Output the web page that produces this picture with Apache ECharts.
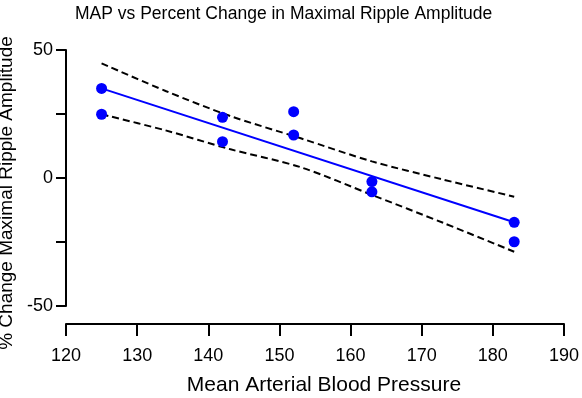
<!DOCTYPE html>
<html>
<head>
<meta charset="utf-8">
<script src="https://cdn.jsdelivr.net/npm/echarts@6/dist/echarts.min.js"></script>
<style>
  html, body { margin: 0; padding: 0; background: #fff; }
  #myChart { width: 582px; height: 398px; }
</style>
</head>
<body>
<div id="myChart"></div>
<script>
// measured points (MAP, % change)
const mapValues = [125, 125, 142, 142, 152, 152, 163, 163, 183, 183]
const rippleChange = [35, 24.9, 23.7, 14.2, 25.9, 16.8, -1.4, -5.4, -17.3, -24.9]

// fitted line end points
const fitX = [125, 183]
const fitY = [35, -17.3]

// confidence band
const bandX = [125, 134, 143, 153, 163, 173, 183]
const bandUpper = [44.8, 34.0, 24.3, 15.5, 6.5, -0.6, -7.3]
const bandLower = [24.9, 18.6, 11.3, 4.2, -6.6, -17.5, -28.8]

const xTicks = { min: 120, max: 190, step: 10 }
const yTicks = { min: -50, max: 50, step: 25 }

const font = "'Liberation Sans', Arial, sans-serif"
const zip = (xs, ys) => xs.map((x, i) => [x, ys[i]])

const chart = echarts.init(document.getElementById('myChart'))
chart.setOption({
  animation: false,
  title: {
    text: 'MAP vs Percent Change in Maximal Ripple Amplitude',
    left: 70,
    top: 0,
    textStyle: { fontFamily: font, fontSize: 17.5, fontWeight: 'normal', color: '#000' },
  },
  grid: { left: 66, right: 18, top: 50, bottom: 92, containLabel: false, outerBoundsMode: 'none' },
  xAxis: {
    type: 'value',
    min: xTicks.min,
    max: xTicks.max,
    interval: xTicks.step,
    offset: 18,
    name: 'Mean Arterial Blood Pressure',
    nameLocation: 'middle',
    nameGap: 51,
    nameTextStyle: { fontFamily: font, fontSize: 21, color: '#000', padding: [0, 0, 0, 18] },
    axisLine: { onZero: false, lineStyle: { color: '#000', width: 2 } },
    axisTick: { length: 12, lineStyle: { color: '#000', width: 2 } },
    axisLabel: { fontFamily: font, fontSize: 18, color: '#000', margin: 23 },
    splitLine: { show: false },
  },
  yAxis: {
    type: 'value',
    min: yTicks.min,
    max: yTicks.max,
    interval: yTicks.step,
    name: '% Change Maximal Ripple Amplitude',
    nameLocation: 'middle',
    nameGap: 45,
    nameTextStyle: { fontFamily: font, fontSize: 19, color: '#000', padding: [0, 30, 0, 0] },
    axisLine: { show: true, onZero: false, lineStyle: { color: '#000', width: 2 } },
    axisTick: { show: true, length: 10, lineStyle: { color: '#000', width: 2 } },
    axisLabel: {
      fontFamily: font, fontSize: 18, color: '#000', margin: 13,
      formatter: v => (v % 50 === 0 ? String(v) : ''),
    },
    splitLine: { show: false },
  },
  series: [
    {
      name: 'upper',
      type: 'line',
      smooth: 0.3,
      showSymbol: false,
      data: zip(bandX, bandUpper),
      lineStyle: { color: '#000', width: 2, type: [7, 4] },
      z: 1,
    },
    {
      name: 'lower',
      type: 'line',
      smooth: 0.3,
      showSymbol: false,
      data: zip(bandX, bandLower),
      lineStyle: { color: '#000', width: 2, type: [7, 4] },
      z: 1,
    },
    {
      name: 'fit',
      type: 'line',
      showSymbol: false,
      data: zip(fitX, fitY),
      lineStyle: { color: '#0000ff', width: 2 },
      z: 2,
    },
    {
      name: 'points',
      type: 'scatter',
      symbolSize: 11,
      data: zip(mapValues, rippleChange),
      itemStyle: { color: '#0000ff', opacity: 1 },
      z: 3,
    },
  ],
})
</script>
</body>
</html>
